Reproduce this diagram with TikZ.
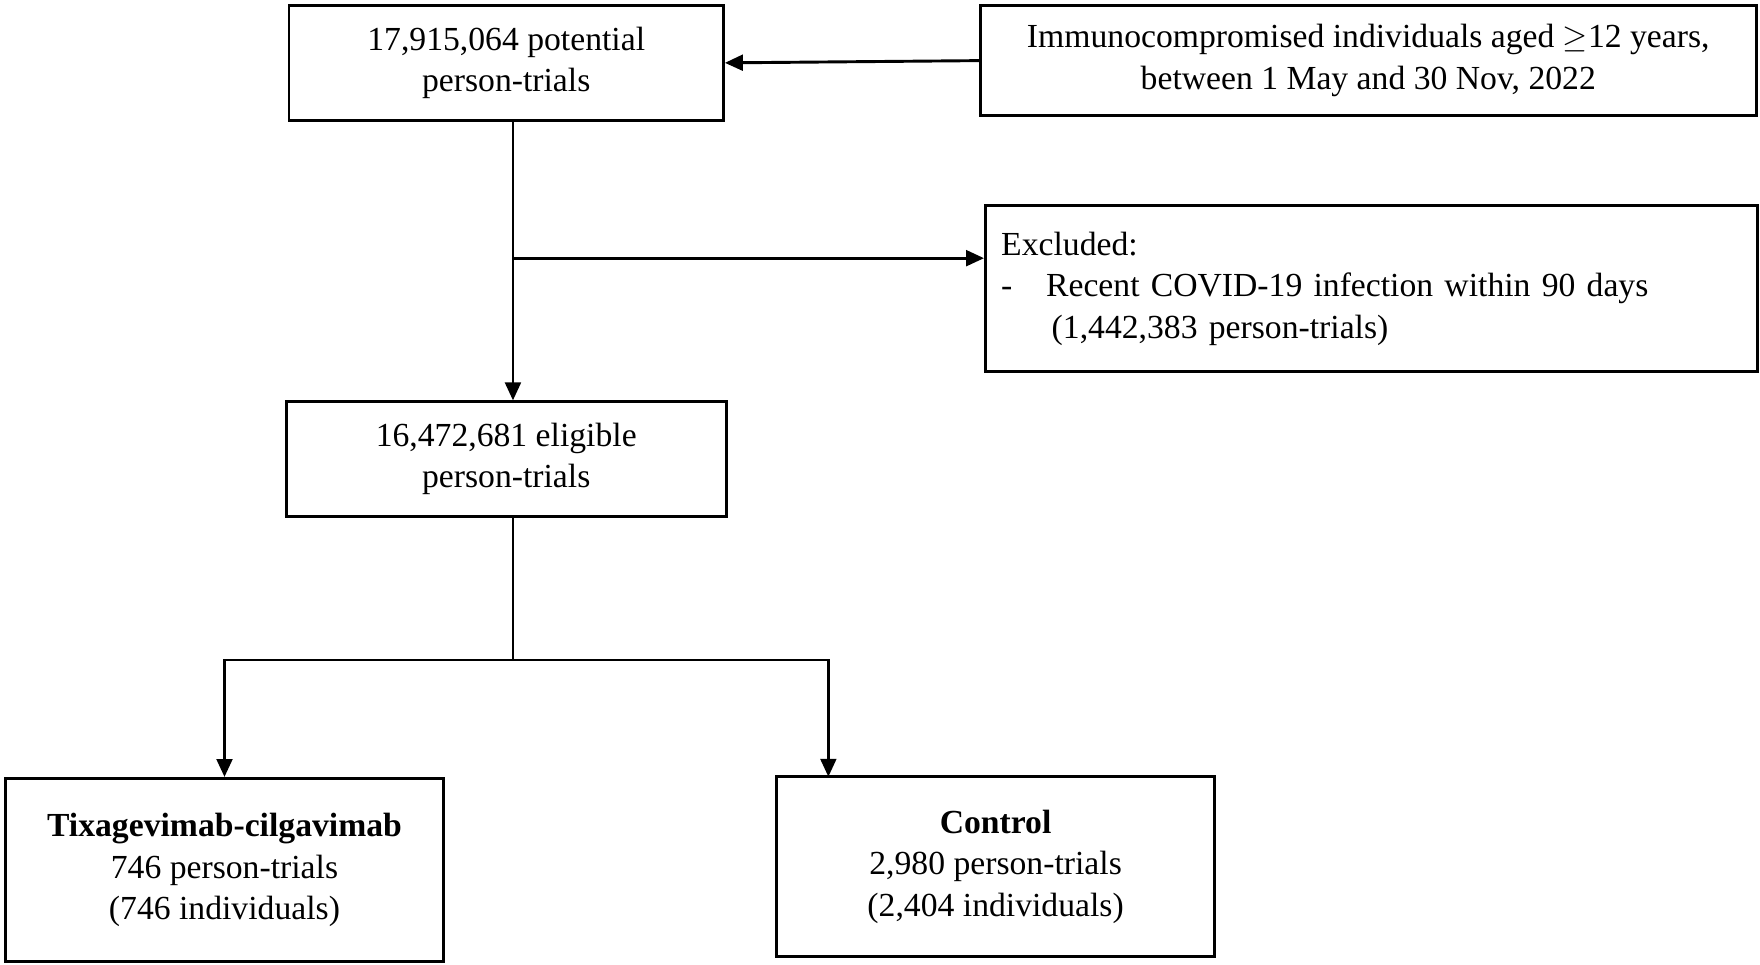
\documentclass[tikz,border=0pt]{standalone}
\usepackage{fontspec}
\setmainfont{Liberation Serif}
\usetikzlibrary{arrows.meta,positioning}
\tikzset{
	box/.style={draw, line width=1.3pt, inner sep=0pt, align=center, font=\fontsize{15}{18.5}\selectfont},
	flow/.style={line width=1.3pt, -{Triangle[length=8pt,width=7pt]}},
	link/.style={line width=1.3pt}
}
\begin{document}
\begin{tikzpicture}[x=0.5pt, y=-0.5pt]
	\useasboundingbox (0,0) rectangle (1568,859);
	% boxes
	\node[box, minimum width=193.5pt, minimum height=51pt] (potential) at (451,56) {17,915,064 potential\\person-trials};
	\node[box, minimum width=345.5pt, minimum height=49pt] (source) at (1219,54) {Immunocompromised individuals aged \(\geq\)12 years,\\between 1 May and 30 Nov, 2022};
	\node[box, minimum width=344pt, minimum height=74pt, align=left, text width=330pt] (excluded) at (1222,257) {Excluded:\\-\hspace{1em}Recent COVID-19 infection within 90 days\\\hspace{1.5em}(1,442,383 person-trials)};
	\node[box, minimum width=196pt, minimum height=51pt] (eligible) at (451,409) {16,472,681 eligible\\person-trials};
	\node[box, minimum width=195.5pt, minimum height=81.5pt] (tixa) at (200,775) {\textbf{Tixagevimab-cilgavimab}\\746 person-trials\\(746 individuals)};
	\node[box, minimum width=195pt, minimum height=80.5pt] (control) at (887,772) {\textbf{Control}\\2,980 person-trials\\(2,404 individuals)};
	% connectors
	\coordinate (split) at (457,230);
	\coordinate (fork) at (457,588);
	\draw[flow] (source.west) -- (potential.east);
	\draw[flow] (potential.south -| split) -- (eligible.north -| split);
	\draw[flow] (split) -- (split -| excluded.west);
	\draw[link] (eligible.south -| fork) -- (fork);
	\draw[flow] (fork) -| (tixa.north);
	\draw[flow] (fork) -| (738,692);
\end{tikzpicture}
\end{document}
